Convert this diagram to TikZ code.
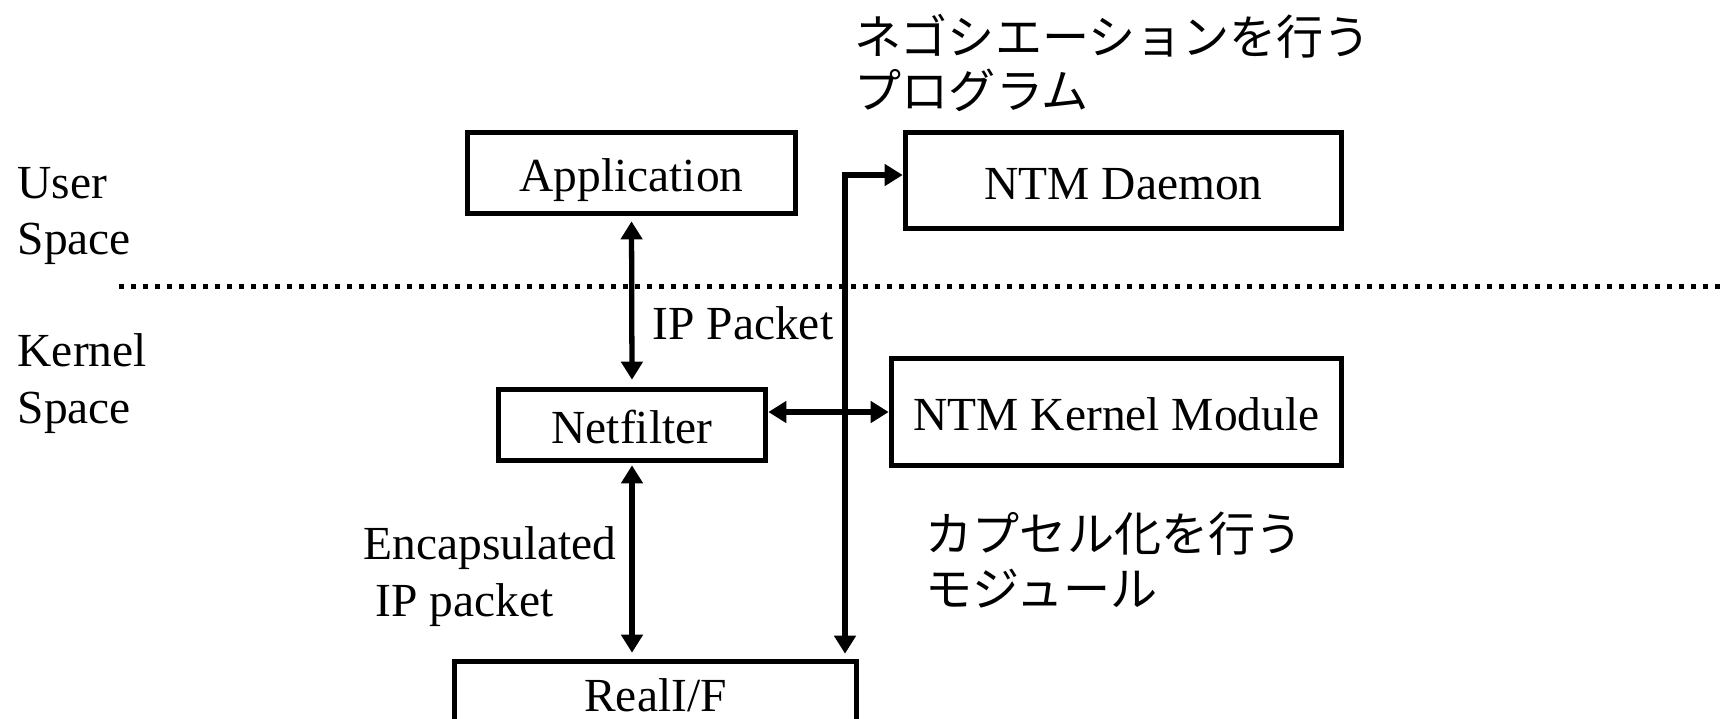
\documentclass[tikz,border=0pt]{standalone}
\usepackage{fontspec}
\setmainfont{Liberation Serif}
\newfontfamily\jpfont{Noto Sans CJK JP}
\usetikzlibrary{arrows.meta}

\tikzset{
  box/.style={draw, line width=1.6pt, rectangle, inner sep=0pt,
    text height=10.8pt, text depth=0.2pt,
    font=\fontsize{13.5}{16.2}\selectfont},
  link/.style={line width=1.5pt,
    {Triangle[length=0.18cm,width=0.21cm]}-{Triangle[length=0.18cm,width=0.21cm]}},
  lbl/.style={inner sep=0pt, align=left, anchor=west,
    font=\fontsize{13.5}{16.2}\selectfont},
  jplbl/.style={inner sep=0pt, align=left, anchor=west,
    font=\jpfont\fontsize{13.4}{15.4}\selectfont},
  sep/.style={line width=1.42pt, dash pattern=on 0.05cm off 0.07cm}
}

\begin{document}
\begin{tikzpicture}
        \useasboundingbox (0,0) rectangle (17.27,-7.18);

        % boxes
        \node[box, minimum width=3.28cm, minimum height=0.81cm] (app) at (6.315,-1.73) {Application};
        \node[box, minimum width=4.36cm, minimum height=0.96cm] (daemon) at (11.235,-1.805) {NTM Daemon};
        \node[box, minimum width=2.67cm, minimum height=0.71cm] (netfilter) at (6.32,-4.25) {Netfilter};
        \node[box, minimum width=4.50cm, minimum height=1.07cm] (kmod) at (11.165,-4.12) {NTM Kernel Module};
        \node[box, minimum width=4.02cm, minimum height=0.62cm] (realif) at (6.555,-6.925) {RealI/F};

        % user / kernel border
        \draw[sep] (1.19,-2.86) -- (17.27,-2.86);

        % labels
        \node[lbl] (user) at (0.17,-2.16) {User\\Space};
        \node[lbl] (kernel) at (0.17,-3.84) {Kernel\\Space};
        \node[lbl] (ippkt) at (6.52,-3.23) {IP Packet};
        \node[lbl] (encap) at (3.63,-5.77) {Encapsulated\\\hspace*{0.12cm}IP packet};
        \node[jplbl] (negot) at (8.54,-0.63) {ネゴシエーションを行う\\プログラム};
        \node[jplbl] (encmod) at (9.25,-5.60) {カプセル化を行う\\モジュール};

        % connectors
        \draw[link, shorten <=0.05cm, shorten >=0.07cm] (app.south) -- (netfilter.north);
        \draw[link, shorten <=0.02cm, shorten >=0.06cm] (netfilter.south) -- (netfilter.south |- realif.north);
        \draw[link] (netfilter.east |- kmod.west) -- (kmod.west);
        \coordinate (bus) at (8.45,-1.75);
        \draw[link, shorten <=0.05cm] (bus |- realif.north) |- (daemon.west |- bus);
\end{tikzpicture}
\end{document}
